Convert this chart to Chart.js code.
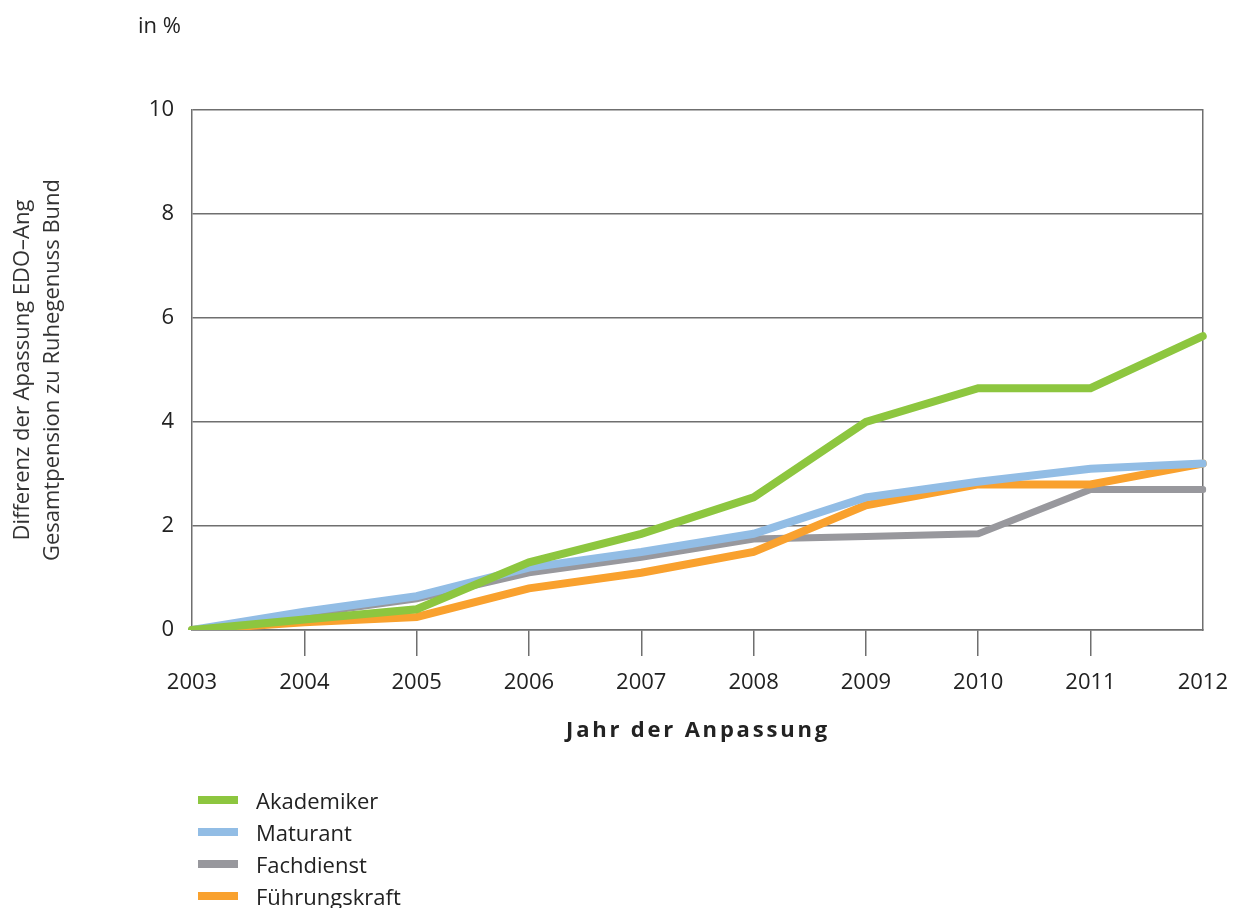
<!DOCTYPE html>
<html>
<head>
<meta charset="utf-8">
<script src="https://cdn.jsdelivr.net/npm/chart.js@4/dist/chart.umd.min.js"></script>
<style>
  body { margin: 0; background: #fff; font-family: "Open Sans", sans-serif; color: #222; }
  #wrap { position: relative; width: 1242px; height: 908px; }
  #chart { position: absolute; left: 0; top: 0; }
  #unit { position: absolute; left: 138px; top: 9px; font-size: 22px; }
  #xtitle { position: absolute; left: 0; width: 1396px; top: 713px; text-align: center; font-size: 22px; font-weight: bold; letter-spacing: 2.8px; }
  #legend { position: absolute; left: 198px; top: 784px; font-size: 22px; }
  #legend div { display: flex; align-items: center; height: 32px; }
  #legend span.sw { display: inline-block; width: 40px; height: 8px; margin-right: 18px; }
</style>
</head>
<body>
<div id="wrap">
  <canvas id="chart" width="1242" height="908"></canvas>
  <div id="unit">in %</div>
  <div id="xtitle">Jahr der Anpassung</div>
  <div id="legend"></div>
</div>
<script>
// data
const years = ['2003', '2004', '2005', '2006', '2007', '2008', '2009', '2010', '2011', '2012'];
const akademiker = [0, 0.2, 0.4, 1.3, 1.85, 2.55, 4.0, 4.65, 4.65, 5.65];
const maturant = [0, 0.35, 0.65, 1.2, 1.5, 1.85, 2.55, 2.85, 3.1, 3.2];
const fachdienst = [0, 0.3, 0.6, 1.1, 1.4, 1.75, 1.8, 1.85, 2.7, 2.7];
const fuehrungskraft = [0, 0.15, 0.25, 0.8, 1.1, 1.5, 2.4, 2.8, 2.8, 3.2];
const yTicks = [0, 2, 4, 6, 8, 10];

const seriesNames = ['Akademiker', 'Maturant', 'Fachdienst', 'Führungskraft'];
const seriesColors = ['#8dc63f', '#92bde5', '#98989d', '#f9a12e'];
const seriesData = [akademiker, maturant, fachdienst, fuehrungskraft];
const drawOrder = [0, 1, 3, 2]; // lower = drawn on top

const gridColor = '#6f6f6f';
const font = { family: '"Open Sans", sans-serif', size: 22 };

const ctx = document.getElementById('chart').getContext('2d');
new Chart(ctx, {
  type: 'line',
  data: {
    labels: years,
    datasets: seriesNames.map((name, i) => ({
      label: name,
      data: seriesData[i],
      borderColor: seriesColors[i],
      borderWidth: i === 2 ? 7 : 8,
      pointRadius: 0,
      tension: 0,
      fill: false,
      order: drawOrder[i],
      borderCapStyle: 'round',
      borderJoinStyle: 'miter'
    }))
  },
  options: {
    responsive: false,
    animation: false,
    layout: { padding: { left: 0, right: 38, top: 110, bottom: 158 } },
    plugins: { legend: { display: false }, tooltip: { enabled: false } },
    scales: {
      x: {
        grid: {
          drawOnChartArea: false,
          tickLength: 26,
          color: (c) => (c.index === 0 || c.index === years.length - 1) ? 'rgba(0,0,0,0)' : gridColor,
          lineWidth: 1.5
        },
        border: { color: gridColor, width: 1.5 },
        ticks: { color: '#222', font: font, padding: 14, maxRotation: 0, autoSkip: false },
        afterFit: (s) => { s.height = 120; }
      },
      y: {
        min: 0,
        max: 10,
        afterBuildTicks: (s) => { s.ticks = yTicks.map(v => ({ value: v })); },
        grid: { color: gridColor, lineWidth: 1.5, drawTicks: false },
        border: { color: gridColor, width: 1.5 },
        ticks: { color: '#222', font: font, padding: 18 },
        title: {
          display: true,
          text: ['Differenz der Apassung EDO–Ang', 'Gesamtpension zu Ruhegenuss Bund'],
          color: '#333',
          font: { family: '"Open Sans", sans-serif', size: 22, lineHeight: 1.4 },
          padding: { top: 7, bottom: 0 }
        },
        afterFit: (s) => { s.width = 192; }
      },
      y2: {
        position: 'right',
        min: 0,
        max: 10,
        grid: { display: false },
        ticks: { display: false },
        border: { color: gridColor, width: 1.5 },
        afterFit: (s) => { s.width = 0; }
      }
    }
  }
});

// legend as a vertical list, built from the series arrays
const legend = document.getElementById('legend');
seriesNames.forEach((name, i) => {
  const row = document.createElement('div');
  row.innerHTML = '<span class="sw" style="background:' + seriesColors[i] + '"></span>' + name;
  legend.appendChild(row);
});
</script>
</body>
</html>
